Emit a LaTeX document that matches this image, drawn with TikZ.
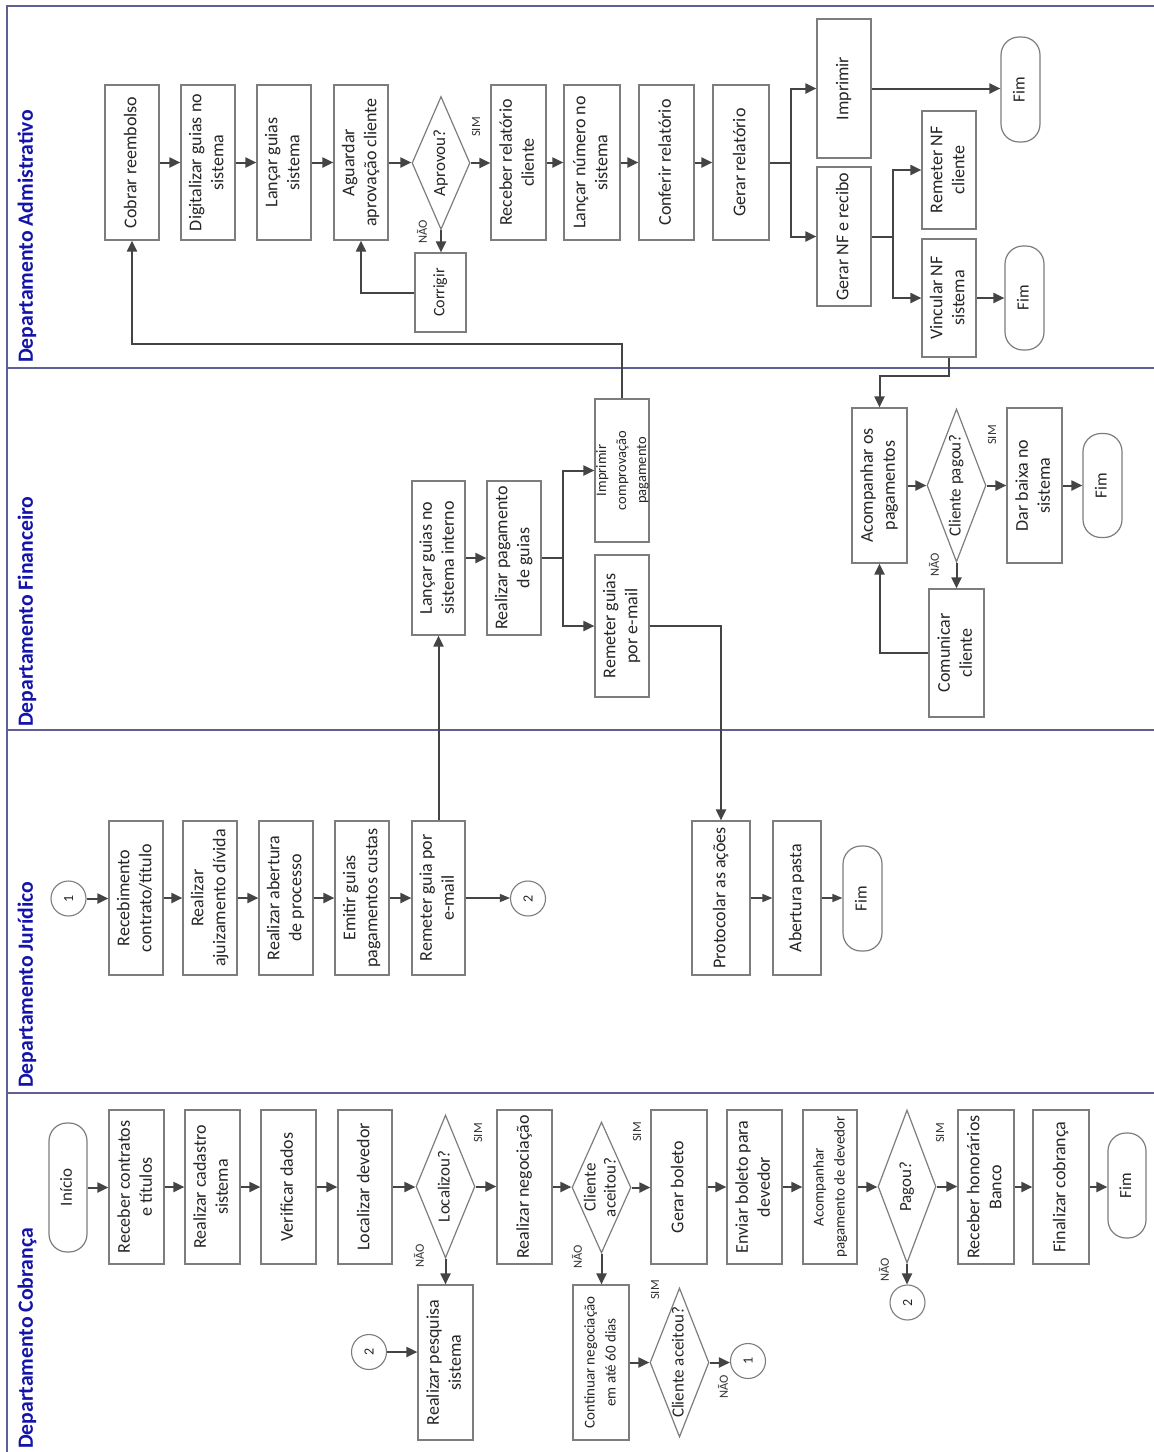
\documentclass[tikz,border=0pt]{standalone}
\usepackage{fontspec}
\setmainfont{Carlito}
\usepackage{graphicx}
\usetikzlibrary{shapes.geometric,arrows.meta}
\definecolor{boxgray}{RGB}{125,125,125}
\definecolor{arrgray}{RGB}{68,68,68}
\definecolor{lanecol}{RGB}{95,95,150}
\definecolor{laneblue}{RGB}{20,20,170}
\newcommand{\rottxt}[1]{\rotatebox{90}{\begin{tabular}{@{}c@{}}#1\end{tabular}}}
\begin{document}
\begin{tikzpicture}[x=1pt,y=-1pt,
  sz/.style 2 args={minimum width=#1pt,minimum height=#2pt},
  box/.style={draw=boxgray,line width=1.2pt,rectangle,inner sep=0pt,text=black!85,font=\fontsize{18}{22}\selectfont},
  smallbox/.style={box,font=\fontsize{15}{21}\selectfont},
  term/.style={box,rounded corners=18pt,font=\fontsize{17}{20}\selectfont},
  dia/.style={draw=boxgray,line width=1.2pt,diamond,inner sep=0pt},
  dtxt/.style={inner sep=0pt,text=black!85,font=\fontsize{17}{20}\selectfont},
  conn/.style={draw=boxgray,line width=1.1pt,circle,minimum size=35pt,inner sep=0pt,text=black!85,font=\fontsize{14}{16}\selectfont},
  arr/.style={draw=arrgray,line width=2pt,-{Triangle[length=11pt,width=10pt]}},
  tarr/.style={draw=arrgray,line width=1.2pt,-{Triangle[length=10pt,width=8pt]}},
  ln/.style={draw=arrgray,line width=2pt},
  yn/.style={inner sep=0pt,text=black!80,font=\fontsize{12.5}{14}\selectfont},
  lanelbl/.style={inner sep=0pt,text=laneblue,font=\bfseries\fontsize{21.7}{24}\selectfont,rotate=90,anchor=west},
  laneline/.style={draw=lanecol,line width=1.5pt}
]
\useasboundingbox (0,0) rectangle (1154,1452);
\fill[white] (0,0) rectangle (1154,1452);

% lanes
\draw[laneline] (1154,6) -- (7,6) -- (7,1452);
\draw[laneline] (7,368) -- (1154,368);
\draw[laneline] (7,730) -- (1154,730);
\draw[laneline] (7,1093) -- (1154,1093);
\node[lanelbl] (lA) at (27,363) {Departamento Admistrativo};
\node[lanelbl] (lF) at (27,727) {Departamento Financeiro};
\node[lanelbl] (lJ) at (27,1088) {Departamento Jurídico};
\node[lanelbl] (lC) at (27,1449) {Departamento Cobrança};

% ===== Administrativo =====
\node[box,sz={54}{155}] (a1) at (132,162.5) {\rottxt{Cobrar reembolso}};
\node[box,sz={54}{155}] (a2) at (208,162.5) {\rottxt{Digitalizar guias no\\sistema}};
\node[box,sz={54}{155}] (a3) at (284,162.5) {\rottxt{Lançar guias\\sistema}};
\node[box,sz={54}{155}] (a4) at (361,162.5) {\rottxt{Aguardar\\aprovação cliente}};
\node[dia,sz={58}{133}] (ad) at (441,163) {};
\node[dtxt] (adt) at (ad.center) {\rottxt{Aprovou?}};
\node[yn] (adsim) at (476,127) {\rotatebox{90}{SIM}};
\node[yn] (adnao) at (422,232) {\rotatebox{90}{NÃO}};
\node[box,sz={51}{79},font=\fontsize{16}{19}\selectfont] (acorr) at (440.5,292.5) {\rottxt{Corrigir}};
\node[box,sz={55}{155}] (a5) at (518.5,162.5) {\rottxt{Receber relatório\\cliente}};
\node[box,sz={56}{155}] (a6) at (592,162.5) {\rottxt{Lançar número no\\sistema}};
\node[box,sz={55}{155}] (a7) at (666.5,162.5) {\rottxt{Conferir relatório}};
\node[box,sz={56}{155}] (a8) at (741,162.5) {\rottxt{Gerar relatório}};
\node[box,sz={54}{139}] (a9) at (844,88.5) {\rottxt{Imprimir}};
\node[box,sz={54}{139}] (a10) at (844,236.5) {\rottxt{Gerar NF e recibo}};
\node[term,sz={39}{105}] (af1) at (1020.5,89.5) {\rottxt{Fim}};
\node[box,sz={54}{118}] (a11) at (949,170) {\rottxt{Remeter NF\\cliente}};
\node[box,sz={54}{118}] (a12) at (949,298) {\rottxt{Vincular NF\\sistema}};
\node[term,sz={39}{104}] (af2) at (1024.5,298) {\rottxt{Fim}};

\draw[arr] (a1.east) -- (a2.west);
\draw[arr] (a2.east) -- (a3.west);
\draw[arr] (a3.east) -- (a4.west);
\draw[arr] (a4.east) -- (a4.east -| ad.west);
\draw[arr] (ad.east) -- (ad.east -| a5.west);
\draw[arr] (ad.south) -- (ad.south |- acorr.north);
\draw[arr] (acorr.west) -| (a4.south);
\draw[arr] (a5.east) -- (a6.west);
\draw[arr] (a6.east) -- (a7.west);
\draw[arr] (a7.east) -- (a8.west);
\coordinate (br1) at (791,162.5);
\draw[ln] (a8.east) -- (br1);
\draw[arr] (br1) |- (a9.west);
\draw[arr] (br1) |- (a10.west);
\draw[arr] (a9.east) -- (a9.east -| af1.west);
\coordinate (br2) at (893,236.5);
\draw[ln] (a10.east) -- (br2);
\draw[arr] (br2) |- (a11.west);
\draw[arr] (br2) |- (a12.west);
\draw[arr] (a12.east) -- (a12.east -| af2.west);

% ===== Financeiro =====
\node[box,sz={53}{154}] (f1) at (438.5,558) {\rottxt{Lançar guias no\\sistema interno}};
\node[box,sz={54}{154}] (f2) at (514,558) {\rottxt{Realizar pagamento\\de guias}};
\node[box,sz={54}{143}] (f3) at (622,470.5) {};
\node[inner sep=0pt,text=black!85,font=\fontsize{14.5}{20}\selectfont] (f3t) at (f3.center) {\rottxt{Imprimir\\comprovação\\pagamento}};
\node[box,sz={54}{142}] (f4) at (622,626) {\rottxt{Remeter guias\\por e-mail}};
\node[box,sz={55}{155}] (fac) at (879.5,485.5) {\rottxt{Acompanhar os\\pagamentos}};
\node[dia,sz={59}{153}] (fd) at (956.5,485.5) {};
\node[dtxt] (fdt) at (fd.center) {\rottxt{Cliente pagou?}};
\node[yn] (fdsim) at (992,435) {\rotatebox{90}{SIM}};
\node[yn] (fdnao) at (934,565) {\rotatebox{90}{NÃO}};
\node[box,sz={55}{155}] (fdb) at (1034.5,485.5) {\rottxt{Dar baixa no\\sistema}};
\node[term,sz={39}{104}] (ff) at (1102.5,485.5) {\rottxt{Fim}};
\node[box,sz={55}{128}] (fcom) at (956.5,653) {\rottxt{Comunicar\\cliente}};

\draw[arr] (f1.east) -- (f2.west);
\coordinate (br3) at (563,558);
\draw[ln] (f2.east) -- (br3);
\draw[arr] (br3) |- (f3.west);
\draw[arr] (br3) |- (f4.west);
\coordinate (k2) at (622,344);
\draw[arr] (f3.north) -- (k2) -| (a1.south);
\coordinate (k1) at (949,376);
\draw[arr] (a12.south) -- (k1) -| (fac.north);
\draw[arr] (fac.east) -- (fd.west);
\draw[arr] (fd.east) -- (fdb.west);
\draw[arr] (fdb.east) -- (ff.west);
\draw[arr] (fd.south) -- (fcom.north);
\draw[arr] (fcom.west) -| (fac.south);

% ===== Juridico =====
\node[conn] (jc1) at (68.5,898.5) {\rotatebox{90}{1}};
\node[box,sz={54}{154}] (j1) at (136,898) {\rottxt{Recebimento\\contrato/título}};
\node[box,sz={54}{154}] (j2) at (210,898) {\rottxt{Realizar\\ajuizamento dívida}};
\node[box,sz={54}{154}] (j3) at (286,898) {\rottxt{Realizar abertura\\de processo}};
\node[box,sz={54}{154}] (j4) at (362,898) {\rottxt{Emitir guias\\pagamentos custas}};
\node[box,sz={53}{154}] (j5) at (438.5,898) {\rottxt{Remeter guia por\\e-mail}};
\node[conn] (jc2) at (528,898.5) {\rotatebox{90}{2}};
\node[box,sz={58}{154}] (jp) at (721,898) {\rottxt{Protocolar as ações}};
\node[box,sz={48}{154}] (jab) at (797,898) {\rottxt{Abertura pasta}};
\node[term,sz={39}{105}] (jf) at (862.5,898.5) {\rottxt{Fim}};

\draw[arr] (jc1.east) -- (jc1.east -| j1.west);
\draw[arr] (j1.east) -- (j2.west);
\draw[arr] (j2.east) -- (j3.west);
\draw[arr] (j3.east) -- (j4.west);
\draw[arr] (j4.east) -- (j5.west);
\draw[tarr] (j5.east) -- (j5.east -| jc2.west);
\draw[arr] (j5.north) -- (f1.south);
\draw[arr] (f4.east) -| (jp.north);
\draw[tarr] (jp.east) -- (jab.west);
\draw[tarr] (jab.east) -- (jab.east -| jf.west);

% ===== Cobranca =====
\node[term,sz={38}{129}] (cin) at (68,1187.5) {\rottxt{Início}};
\node[box,sz={55}{154}] (c1) at (136.5,1187) {\rottxt{Receber contratos\\e títulos}};
\node[box,sz={55}{154}] (c2) at (212.5,1187) {\rottxt{Realizar cadastro\\sistema}};
\node[box,sz={55}{154}] (c3) at (288.5,1187) {\rottxt{Verificar dados}};
\node[box,sz={54}{154}] (c4) at (365,1187) {\rottxt{Localizar devedor}};
\node[dia,sz={59}{143}] (cd1) at (445.5,1186.5) {};
\node[dtxt] (cd1t) at (cd1.center) {\rottxt{Localizou?}};
\node[yn] (cd1sim) at (478,1133) {\rotatebox{90}{SIM}};
\node[yn] (cd1nao) at (419,1256) {\rotatebox{90}{NÃO}};
\node[box,sz={55}{155}] (cps) at (445.5,1362.5) {\rottxt{Realizar pesquisa\\sistema}};
\node[conn] (cc2) at (369,1352) {\rotatebox{90}{2}};
\node[box,sz={55}{154}] (c5) at (524.5,1187) {\rottxt{Realizar negociação}};
\node[dia,sz={59}{131}] (cd2) at (601.5,1187.5) {};
\node[dtxt] (cd2t) at (cd2.center) {\rottxt{Cliente\\aceitou?}};
\node[yn] (cd2sim) at (637,1132) {\rotatebox{90}{SIM}};
\node[yn] (cd2nao) at (577,1257) {\rotatebox{90}{NÃO}};
\node[smallbox,sz={56}{155}] (ccont) at (601,1362.5) {\rottxt{Continuar negociação\\em até 60 dias}};
\node[dia,sz={59}{149}] (cd3) at (679.5,1362.5) {};
\node[dtxt] (cd3t) at (cd3.center) {\rottxt{Cliente aceitou?}};
\node[yn] (cd3sim) at (655,1290) {\rotatebox{90}{SIM}};
\node[yn] (cd3nao) at (723,1387) {\rotatebox{90}{NÃO}};
\node[conn] (cc1) at (748,1361) {\rotatebox{90}{1}};
\node[box,sz={56}{154}] (c6) at (679,1187) {\rottxt{Gerar boleto}};
\node[box,sz={55}{154}] (c7) at (754.5,1187) {\rottxt{Enviar boleto para\\devedor}};
\node[smallbox,sz={54}{154}] (c8) at (830,1187) {\rottxt{Acompanhar\\pagamento de devedor}};
\node[dia,sz={58}{153}] (cd4) at (907,1186.5) {};
\node[dtxt] (cd4t) at (cd4.center) {\rottxt{Pagou?}};
\node[yn] (cd4sim) at (940,1133) {\rotatebox{90}{SIM}};
\node[yn] (cd4nao) at (884,1270) {\rotatebox{90}{NÃO}};
\node[conn] (cc2b) at (907.5,1302.5) {\rotatebox{90}{2}};
\node[box,sz={56}{154}] (c9) at (986,1187) {\rottxt{Receber honorários\\Banco}};
\node[box,sz={56}{154}] (c10) at (1061,1187) {\rottxt{Finalizar cobrança}};
\node[term,sz={38}{105}] (cf) at (1127,1185.5) {\rottxt{Fim}};

\draw[arr] (cin.east) -- (cin.east -| c1.west);
\draw[arr] (c1.east) -- (c2.west);
\draw[arr] (c2.east) -- (c3.west);
\draw[arr] (c3.east) -- (c4.west);
\draw[arr] (c4.east) -- (c4.east -| cd1.west);
\draw[arr] (cd1.east) -- (cd1.east -| c5.west);
\draw[arr] (cd1.south) -- (cps.north);
\draw[arr] (cc2.east) -- (cc2.east -| cps.west);
\draw[arr] (c5.east) -- (c5.east -| cd2.west);
\draw[arr] (cd2.east) -- (cd2.east -| c6.west);
\draw[arr] (cd2.south) -- (cd2.south |- ccont.north);
\draw[arr] (ccont.east) -- (ccont.east -| cd3.west);
\draw[arr] (cd3.east) -- (cd3.east -| cc1.west);
\draw[arr] (c6.east) -- (c7.west);
\draw[arr] (c7.east) -- (c8.west);
\draw[arr] (c8.east) -- (c8.east -| cd4.west);
\draw[arr] (cd4.east) -- (cd4.east -| c9.west);
\draw[arr] (cd4.south) -- (cd4.south |- cc2b.north);
\draw[arr] (c9.east) -- (c10.west);
\draw[arr] (c10.east) -- (c10.east -| cf.west);
\end{tikzpicture}
\end{document}
